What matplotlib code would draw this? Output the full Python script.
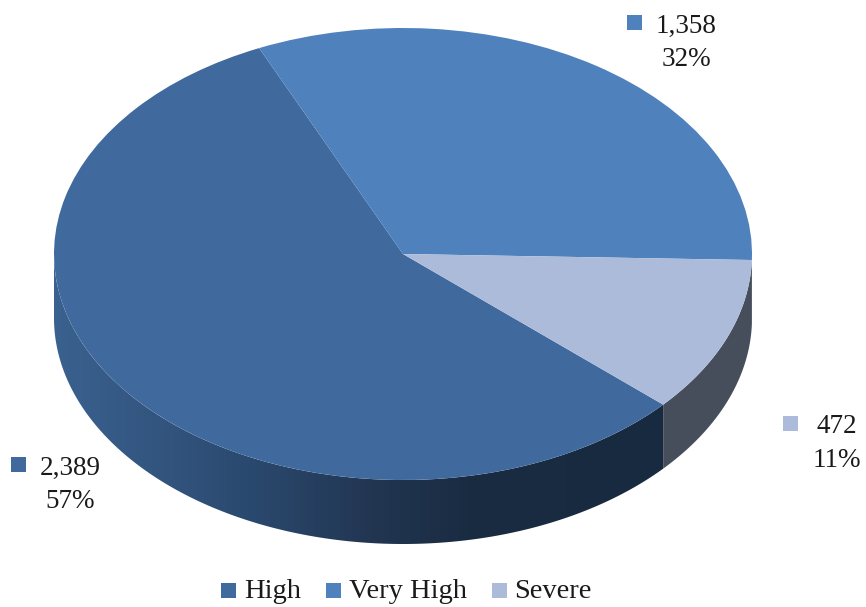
import numpy as np
import matplotlib
matplotlib.use("Agg")
import matplotlib.pyplot as plt
from matplotlib.colors import LinearSegmentedColormap
from matplotlib.legend_handler import HandlerPatch
from matplotlib.patches import PathPatch, Rectangle, Wedge
from matplotlib.path import Path

categories = ["High", "Very High", "Severe"]
values = [2389, 1358, 472]
percent_labels = ["57%", "32%", "11%"]

colors = ["#406a9e", "#4f81bd", "#adbbdb"]
wall_colors = [None, "#2f4d71", "#464d5b"]

W, H = 866, 607
CX, CY, RX, RY = 403, 254, 349, 226   # pie centre and radii, pixels
DEPTH = 64 / RY
START = -41.8
KEY = 15  # colour key size, pixels

# square x, square y, text centre x, first baseline y, second baseline y
label_pos = [(11, 457, 70, 475, 508),
             (627, 15, 686, 33, 66),
             (783, 416, 837, 433, 467)]

plt.rcParams["font.family"] = ["Liberation Serif", "DejaVu Serif"]

fig = plt.figure(figsize=(W / 100, H / 100), dpi=100)
ax = fig.add_axes([0, 0, 1, 1])

wedges, _ = ax.pie(values, colors=colors, startangle=START, counterclock=False,
                   radius=1, wedgeprops={"linewidth": 0, "zorder": 3})

xlim = (-CX / RX, (W - CX) / RX)
ylim = ((CY - H) / RY, CY / RY)


def wall_path(a0, a1):
    t = np.radians(np.linspace(a0, a1, 200))
    x, y = np.cos(t), np.sin(t)
    verts = np.r_[np.c_[x, y], np.c_[x[::-1], y[::-1] - DEPTH], [[x[0], y[0]]]]
    return Path(verts, closed=True)


def square_key(legend, orig_handle, xdescent, ydescent, width, height, fontsize):
    return Rectangle((0, 0), KEY * 0.72, KEY * 0.72)


# side wall, only the part in the lower half of the ellipse can be seen
fractions = np.array(values) / sum(values)
a_top = START
for i in range(len(values)):
    a_low = a_top - 360 * fractions[i]
    lo, hi = np.mod(a_low, 360), np.mod(a_low, 360) + 360 * fractions[i]
    a0, a1 = max(lo, 180), min(hi, 360)
    a_top = a_low
    if a1 <= a0:
        continue
    patch = PathPatch(wall_path(a0, a1), linewidth=0, zorder=2,
                      facecolor=wall_colors[i] or "none")
    ax.add_patch(patch)
    if wall_colors[i] is None:
        # the big slice has a dark gradient running left to right
        cmap = LinearSegmentedColormap.from_list("wall", [
            (0.0, "#3a618f"), (0.16, "#335680"), (0.33, "#2a486d"),
            (0.52, "#223652"), (0.68, "#1a2c42"), (1.0, "#182a40")])
        im = ax.imshow(np.linspace(0, 1, 256)[None, :], cmap=cmap, aspect="auto",
                       extent=(-1, np.cos(np.radians(a1)), -1 - DEPTH, 0), zorder=2)
        im.set_clip_path(patch)

ax.set_xlim(xlim)
ax.set_ylim(ylim)
ax.axis("off")

# data labels with their small colour keys
for i, (sx, sy, tx, y1, y2) in enumerate(label_pos):
    fig.add_artist(Rectangle((sx / W, 1 - (sy + KEY) / H), KEY / W, KEY / H,
                             transform=fig.transFigure, facecolor=colors[i], linewidth=0))
    fig.text(tx / W, 1 - y1 / H, f"{values[i]:,}", ha="center", va="baseline",
             fontsize=19.5, color="#1a1a1a")
    fig.text(tx / W, 1 - y2 / H, percent_labels[i], ha="center", va="baseline",
             fontsize=19.5, color="#1a1a1a")

fig.legend(wedges, categories, loc="center", bbox_to_anchor=(406.5 / W, 1 - 591 / H),
           ncol=3, frameon=False, fontsize=20.5, handlelength=0.53, handleheight=0.7,
           handletextpad=0.27, columnspacing=0.88, labelcolor="#1a1a1a",
           borderpad=0, borderaxespad=0,
           handler_map={Wedge: HandlerPatch(patch_func=square_key)})

fig.savefig("out.png", dpi=100)
